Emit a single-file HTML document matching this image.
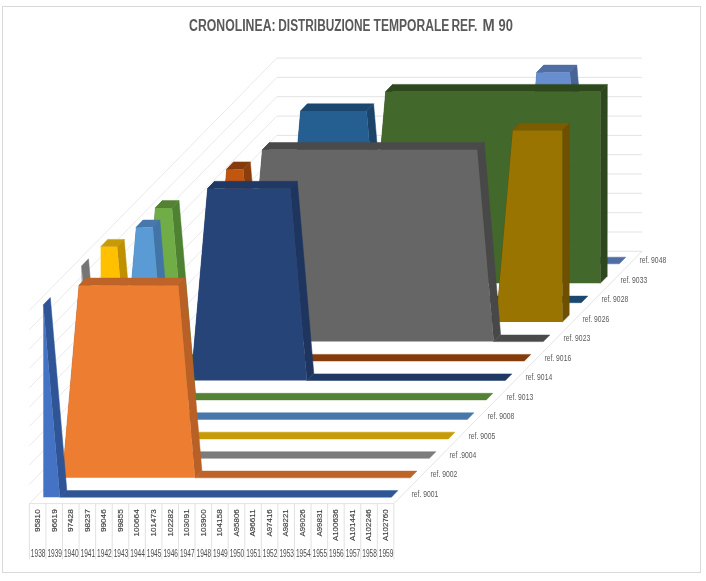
<!DOCTYPE html>
<html><head><meta charset="utf-8"><title>Cronolinea</title>
<style>html,body{margin:0;padding:0;background:#fff}svg{display:block;font-family:"Liberation Sans",sans-serif}</style>
</head><body>
<svg width="706" height="581" viewBox="0 0 706 581">
<rect width="706" height="581" fill="#fff"/>
<rect x="2.5" y="6.5" width="698" height="566" fill="#fff" stroke="#d9d9d9" stroke-width="1"/>
<line x1="276.8" y1="251.3" x2="642.0" y2="251.3" stroke="#e0e0e0" stroke-width="0.9"/>
<line x1="29.4" y1="503.6" x2="276.8" y2="251.3" stroke="#e6e6e6" stroke-width="0.9"/>
<line x1="276.8" y1="232.0" x2="642.0" y2="232.0" stroke="#e0e0e0" stroke-width="0.9"/>
<line x1="29.4" y1="484.3" x2="276.8" y2="232.0" stroke="#e6e6e6" stroke-width="0.9"/>
<line x1="276.8" y1="212.7" x2="642.0" y2="212.7" stroke="#e0e0e0" stroke-width="0.9"/>
<line x1="29.4" y1="465.0" x2="276.8" y2="212.7" stroke="#e6e6e6" stroke-width="0.9"/>
<line x1="276.8" y1="193.3" x2="642.0" y2="193.3" stroke="#e0e0e0" stroke-width="0.9"/>
<line x1="29.4" y1="445.6" x2="276.8" y2="193.3" stroke="#e6e6e6" stroke-width="0.9"/>
<line x1="276.8" y1="174.0" x2="642.0" y2="174.0" stroke="#e0e0e0" stroke-width="0.9"/>
<line x1="29.4" y1="426.3" x2="276.8" y2="174.0" stroke="#e6e6e6" stroke-width="0.9"/>
<line x1="276.8" y1="154.7" x2="642.0" y2="154.7" stroke="#e0e0e0" stroke-width="0.9"/>
<line x1="29.4" y1="407.0" x2="276.8" y2="154.7" stroke="#e6e6e6" stroke-width="0.9"/>
<line x1="276.8" y1="135.4" x2="642.0" y2="135.4" stroke="#e0e0e0" stroke-width="0.9"/>
<line x1="29.4" y1="387.7" x2="276.8" y2="135.4" stroke="#e6e6e6" stroke-width="0.9"/>
<line x1="276.8" y1="116.1" x2="642.0" y2="116.1" stroke="#e0e0e0" stroke-width="0.9"/>
<line x1="29.4" y1="368.4" x2="276.8" y2="116.1" stroke="#e6e6e6" stroke-width="0.9"/>
<line x1="276.8" y1="96.7" x2="642.0" y2="96.7" stroke="#e0e0e0" stroke-width="0.9"/>
<line x1="29.4" y1="349.0" x2="276.8" y2="96.7" stroke="#e6e6e6" stroke-width="0.9"/>
<line x1="276.8" y1="77.4" x2="642.0" y2="77.4" stroke="#e0e0e0" stroke-width="0.9"/>
<line x1="29.4" y1="329.7" x2="276.8" y2="77.4" stroke="#e6e6e6" stroke-width="0.9"/>
<line x1="276.8" y1="58.1" x2="642.0" y2="58.1" stroke="#e0e0e0" stroke-width="0.9"/>
<line x1="29.4" y1="310.4" x2="276.8" y2="58.1" stroke="#e6e6e6" stroke-width="0.9"/>
<line x1="393.9" y1="503.6" x2="642.0" y2="251.3" stroke="#e0e0e0" stroke-width="0.9"/>
<line x1="29.4" y1="503.6" x2="393.9" y2="503.6" stroke="#e0e0e0" stroke-width="0.9"/>
<polygon points="272.7,263.8 520.3,263.8 526.8,257.2 279.2,257.2" fill="#4E6EA5" stroke="#4E6EA5" stroke-width="0.5" stroke-linejoin="round"/>
<polygon points="520.3,263.8 536.8,72.4 543.8,65.1 527.2,256.8" fill="#486496" stroke="#486496" stroke-width="0.5" stroke-linejoin="round"/>
<polygon points="536.8,72.4 569.8,72.4 576.8,65.1 543.8,65.1" fill="#4E6EA5" stroke="#4E6EA5" stroke-width="0.5" stroke-linejoin="round"/>
<polygon points="569.8,72.4 586.3,263.8 593.2,256.8 576.8,65.1" fill="#486496" stroke="#486496" stroke-width="0.5" stroke-linejoin="round"/>
<polygon points="586.3,263.8 619.3,263.8 625.8,257.2 592.8,257.2" fill="#4E6EA5" stroke="#4E6EA5" stroke-width="0.5" stroke-linejoin="round"/>
<polygon points="520.3,263.8 536.8,72.4 553.3,72.4 569.8,72.4 586.3,263.8" fill="#698ED0"/>
<text x="639.4" y="263.4" font-size="8.6" fill="#595959" textLength="26.8" lengthAdjust="spacingAndGlyphs">ref. 9048</text>
<polygon points="253.6,283.2 369.2,283.2 375.7,276.6 260.1,276.6" fill="#2E481E" stroke="#2E481E" stroke-width="0.5" stroke-linejoin="round"/>
<polygon points="369.2,283.2 385.7,91.7 392.7,84.4 376.1,276.2" fill="#2E481E" stroke="#2E481E" stroke-width="0.5" stroke-linejoin="round"/>
<polygon points="385.7,91.7 600.3,91.7 607.3,84.4 392.7,84.4" fill="#2E481E" stroke="#2E481E" stroke-width="0.5" stroke-linejoin="round"/>
<polygon points="600.3,91.7 607.3,84.4 607.2,276.2 600.3,283.2" fill="#2E481E" stroke="#2E481E" stroke-width="0.5" stroke-linejoin="round"/>
<polygon points="369.2,283.2 385.7,91.7 402.2,91.7 418.7,91.7 435.2,91.7 451.7,91.7 468.2,91.7 484.7,91.7 501.3,91.7 517.8,91.7 534.3,91.7 550.8,91.7 567.3,91.7 583.8,91.7 600.3,91.7 600.3,283.2" fill="#43682B"/>
<text x="620.4" y="282.9" font-size="8.6" fill="#595959" textLength="26.8" lengthAdjust="spacingAndGlyphs">ref. 9033</text>
<polygon points="234.5,302.7 284.0,302.7 290.5,296.1 241.0,296.1" fill="#1C486F" stroke="#1C486F" stroke-width="0.5" stroke-linejoin="round"/>
<polygon points="284.0,302.7 300.6,111.1 307.6,103.8 290.9,295.7" fill="#1B446A" stroke="#1B446A" stroke-width="0.5" stroke-linejoin="round"/>
<polygon points="300.6,111.1 366.6,111.1 373.6,103.8 307.6,103.8" fill="#1C486F" stroke="#1C486F" stroke-width="0.5" stroke-linejoin="round"/>
<polygon points="366.6,111.1 383.1,302.7 390.0,295.7 373.6,103.8" fill="#1B446A" stroke="#1B446A" stroke-width="0.5" stroke-linejoin="round"/>
<polygon points="383.1,302.7 581.3,302.7 587.8,296.1 389.6,296.1" fill="#1C486F" stroke="#1C486F" stroke-width="0.5" stroke-linejoin="round"/>
<polygon points="284.0,302.7 300.6,111.1 317.1,111.1 333.6,111.1 350.1,111.1 366.6,111.1 383.1,302.7" fill="#255E91"/>
<text x="601.4" y="302.3" font-size="8.6" fill="#595959" textLength="26.8" lengthAdjust="spacingAndGlyphs">ref. 9028</text>
<polygon points="215.4,322.1 496.2,322.1 502.7,315.5 221.9,315.5" fill="#7D5C00" stroke="#7D5C00" stroke-width="0.5" stroke-linejoin="round"/>
<polygon points="496.2,322.1 512.8,130.5 519.8,123.2 503.1,315.1" fill="#6E5000" stroke="#6E5000" stroke-width="0.5" stroke-linejoin="round"/>
<polygon points="512.8,130.5 562.3,130.5 569.3,123.2 519.8,123.2" fill="#7D5C00" stroke="#7D5C00" stroke-width="0.5" stroke-linejoin="round"/>
<polygon points="562.3,130.5 569.3,123.2 569.2,315.1 562.3,322.1" fill="#6E5000" stroke="#6E5000" stroke-width="0.5" stroke-linejoin="round"/>
<polygon points="496.2,322.1 512.8,130.5 529.3,130.5 545.8,130.5 562.3,130.5 562.3,322.1" fill="#997500"/>
<text x="582.4" y="321.8" font-size="8.6" fill="#595959" textLength="26.8" lengthAdjust="spacingAndGlyphs">ref. 9026</text>
<polygon points="196.3,341.6 245.8,341.6 252.3,335.0 202.8,335.0" fill="#4A4A4A" stroke="#4A4A4A" stroke-width="0.5" stroke-linejoin="round"/>
<polygon points="245.8,341.6 262.4,149.8 269.4,142.5 252.7,334.6" fill="#484848" stroke="#484848" stroke-width="0.5" stroke-linejoin="round"/>
<polygon points="262.4,149.8 477.2,149.8 484.2,142.5 269.4,142.5" fill="#4A4A4A" stroke="#4A4A4A" stroke-width="0.5" stroke-linejoin="round"/>
<polygon points="477.2,149.8 493.7,341.6 500.6,334.6 484.2,142.5" fill="#484848" stroke="#484848" stroke-width="0.5" stroke-linejoin="round"/>
<polygon points="493.7,341.6 543.3,341.6 549.8,335.0 500.2,335.0" fill="#4A4A4A" stroke="#4A4A4A" stroke-width="0.5" stroke-linejoin="round"/>
<polygon points="245.8,341.6 262.4,149.8 278.9,149.8 295.4,149.8 311.9,149.8 328.5,149.8 345.0,149.8 361.5,149.8 378.1,149.8 394.6,149.8 411.1,149.8 427.6,149.8 444.2,149.8 460.7,149.8 477.2,149.8 493.7,341.6" fill="#666666"/>
<text x="563.4" y="341.2" font-size="8.6" fill="#595959" textLength="26.8" lengthAdjust="spacingAndGlyphs">ref. 9023</text>
<polygon points="177.1,361.0 210.2,361.0 216.7,354.4 183.6,354.4" fill="#843C0C" stroke="#843C0C" stroke-width="0.5" stroke-linejoin="round"/>
<polygon points="210.2,361.0 226.7,169.2 233.7,161.9 217.1,354.0" fill="#8A3E0B" stroke="#8A3E0B" stroke-width="0.5" stroke-linejoin="round"/>
<polygon points="226.7,169.2 243.3,169.2 250.3,161.9 233.7,161.9" fill="#843C0C" stroke="#843C0C" stroke-width="0.5" stroke-linejoin="round"/>
<polygon points="243.3,169.2 259.8,361.0 266.7,354.0 250.3,161.9" fill="#8A3E0B" stroke="#8A3E0B" stroke-width="0.5" stroke-linejoin="round"/>
<polygon points="259.8,361.0 524.3,361.0 530.8,354.4 266.3,354.4" fill="#843C0C" stroke="#843C0C" stroke-width="0.5" stroke-linejoin="round"/>
<polygon points="210.2,361.0 226.7,169.2 243.3,169.2 259.8,361.0" fill="#C0560F"/>
<text x="544.4" y="360.6" font-size="8.6" fill="#595959" textLength="26.8" lengthAdjust="spacingAndGlyphs">ref. 9016</text>
<polygon points="158.0,380.5 191.1,380.5 197.6,373.9 164.5,373.9" fill="#1F3864" stroke="#1F3864" stroke-width="0.5" stroke-linejoin="round"/>
<polygon points="191.1,380.5 207.6,188.6 214.6,181.3 198.0,373.5" fill="#1E3560" stroke="#1E3560" stroke-width="0.5" stroke-linejoin="round"/>
<polygon points="207.6,188.6 290.3,188.6 297.3,181.3 214.6,181.3" fill="#1F3864" stroke="#1F3864" stroke-width="0.5" stroke-linejoin="round"/>
<polygon points="290.3,188.6 306.9,380.5 313.8,373.5 297.3,181.3" fill="#1E3560" stroke="#1E3560" stroke-width="0.5" stroke-linejoin="round"/>
<polygon points="306.9,380.5 505.3,380.5 511.8,373.9 313.4,373.9" fill="#1F3864" stroke="#1F3864" stroke-width="0.5" stroke-linejoin="round"/>
<polygon points="191.1,380.5 207.6,188.6 224.2,188.6 240.7,188.6 257.3,188.6 273.8,188.6 290.3,188.6 306.9,380.5" fill="#264478"/>
<text x="525.4" y="380.1" font-size="8.6" fill="#595959" textLength="26.8" lengthAdjust="spacingAndGlyphs">ref. 9014</text>
<polygon points="138.9,399.9 155.4,207.9 162.4,200.6 145.8,392.9" fill="#4E8232" stroke="#4E8232" stroke-width="0.5" stroke-linejoin="round"/>
<polygon points="155.4,207.9 172.0,207.9 179.0,200.6 162.4,200.6" fill="#548235" stroke="#548235" stroke-width="0.5" stroke-linejoin="round"/>
<polygon points="172.0,207.9 188.5,399.9 195.4,392.9 179.0,200.6" fill="#4E8232" stroke="#4E8232" stroke-width="0.5" stroke-linejoin="round"/>
<polygon points="188.5,399.9 486.3,399.9 492.8,393.3 195.0,393.3" fill="#548235" stroke="#548235" stroke-width="0.5" stroke-linejoin="round"/>
<polygon points="138.9,399.9 155.4,207.9 172.0,207.9 188.5,399.9" fill="#70AD47"/>
<text x="506.4" y="399.6" font-size="8.6" fill="#595959" textLength="26.8" lengthAdjust="spacingAndGlyphs">ref. 9013</text>
<polygon points="119.8,419.4 136.3,227.3 143.3,220.0 126.7,412.4" fill="#4274A7" stroke="#4274A7" stroke-width="0.5" stroke-linejoin="round"/>
<polygon points="136.3,227.3 152.9,227.3 159.9,220.0 143.3,220.0" fill="#4878AB" stroke="#4878AB" stroke-width="0.5" stroke-linejoin="round"/>
<polygon points="152.9,227.3 169.4,419.4 176.3,412.4 159.9,220.0" fill="#4274A7" stroke="#4274A7" stroke-width="0.5" stroke-linejoin="round"/>
<polygon points="169.4,419.4 467.4,419.4 473.9,412.8 175.9,412.8" fill="#4878AB" stroke="#4878AB" stroke-width="0.5" stroke-linejoin="round"/>
<polygon points="119.8,419.4 136.3,227.3 152.9,227.3 169.4,419.4" fill="#5B9BD5"/>
<text x="487.5" y="419.0" font-size="8.6" fill="#595959" textLength="26.8" lengthAdjust="spacingAndGlyphs">ref. 9008</text>
<polygon points="100.7,246.7 117.2,246.7 124.2,239.4 107.7,239.4" fill="#C79A08" stroke="#C79A08" stroke-width="0.5" stroke-linejoin="round"/>
<polygon points="117.2,246.7 133.8,438.9 140.7,431.9 124.2,239.4" fill="#BF9000" stroke="#BF9000" stroke-width="0.5" stroke-linejoin="round"/>
<polygon points="133.8,438.9 448.4,438.9 454.9,432.2 140.3,432.2" fill="#C79A08" stroke="#C79A08" stroke-width="0.5" stroke-linejoin="round"/>
<polygon points="100.7,438.9 100.7,246.7 117.2,246.7 133.8,438.9" fill="#FFC000"/>
<text x="468.5" y="438.5" font-size="8.6" fill="#595959" textLength="26.8" lengthAdjust="spacingAndGlyphs">ref. 9005</text>
<polygon points="81.5,266.1 98.1,458.3 105.0,451.3 88.5,258.8" fill="#757575" stroke="#757575" stroke-width="0.5" stroke-linejoin="round"/>
<polygon points="98.1,458.3 429.4,458.3 435.9,451.7 104.6,451.7" fill="#7C7C7C" stroke="#7C7C7C" stroke-width="0.5" stroke-linejoin="round"/>
<polygon points="81.5,458.3 81.5,266.1 98.1,458.3" fill="#A5A5A5"/>
<text x="449.5" y="457.9" font-size="8.6" fill="#595959" textLength="26.8" lengthAdjust="spacingAndGlyphs">ref .9004</text>
<polygon points="62.4,477.8 79.0,285.4 86.0,278.1 69.3,470.8" fill="#B86025" stroke="#B86025" stroke-width="0.5" stroke-linejoin="round"/>
<polygon points="79.0,285.4 178.4,285.4 185.4,278.1 86.0,278.1" fill="#BE6428" stroke="#BE6428" stroke-width="0.5" stroke-linejoin="round"/>
<polygon points="178.4,285.4 195.0,477.8 201.9,470.8 185.4,278.1" fill="#B86025" stroke="#B86025" stroke-width="0.5" stroke-linejoin="round"/>
<polygon points="195.0,477.8 410.4,477.8 416.9,471.1 201.5,471.1" fill="#BE6428" stroke="#BE6428" stroke-width="0.5" stroke-linejoin="round"/>
<polygon points="62.4,477.8 79.0,285.4 95.6,285.4 112.1,285.4 128.7,285.4 145.3,285.4 161.8,285.4 178.4,285.4 195.0,477.8" fill="#ED7D31"/>
<text x="430.5" y="477.4" font-size="8.6" fill="#595959" textLength="26.8" lengthAdjust="spacingAndGlyphs">ref. 9002</text>
<polygon points="43.3,304.8 59.9,497.2 66.8,490.2 50.3,297.5" fill="#2F5597" stroke="#2F5597" stroke-width="0.5" stroke-linejoin="round"/>
<polygon points="59.9,497.2 391.4,497.2 397.9,490.6 66.4,490.6" fill="#2F5597" stroke="#2F5597" stroke-width="0.5" stroke-linejoin="round"/>
<polygon points="43.3,497.2 43.3,304.8 59.9,497.2" fill="#4472C4"/>
<text x="411.5" y="496.8" font-size="8.6" fill="#595959" textLength="26.8" lengthAdjust="spacingAndGlyphs">ref. 9001</text>
<line x1="29.35" y1="503.6" x2="29.35" y2="559.4" stroke="#dedede" stroke-width="0.9"/>
<line x1="45.92" y1="503.6" x2="45.92" y2="559.4" stroke="#dedede" stroke-width="0.9"/>
<line x1="62.49" y1="503.6" x2="62.49" y2="559.4" stroke="#dedede" stroke-width="0.9"/>
<line x1="79.06" y1="503.6" x2="79.06" y2="559.4" stroke="#dedede" stroke-width="0.9"/>
<line x1="95.63" y1="503.6" x2="95.63" y2="559.4" stroke="#dedede" stroke-width="0.9"/>
<line x1="112.20" y1="503.6" x2="112.20" y2="559.4" stroke="#dedede" stroke-width="0.9"/>
<line x1="128.77" y1="503.6" x2="128.77" y2="559.4" stroke="#dedede" stroke-width="0.9"/>
<line x1="145.34" y1="503.6" x2="145.34" y2="559.4" stroke="#dedede" stroke-width="0.9"/>
<line x1="161.91" y1="503.6" x2="161.91" y2="559.4" stroke="#dedede" stroke-width="0.9"/>
<line x1="178.48" y1="503.6" x2="178.48" y2="559.4" stroke="#dedede" stroke-width="0.9"/>
<line x1="195.05" y1="503.6" x2="195.05" y2="559.4" stroke="#dedede" stroke-width="0.9"/>
<line x1="211.62" y1="503.6" x2="211.62" y2="559.4" stroke="#dedede" stroke-width="0.9"/>
<line x1="228.19" y1="503.6" x2="228.19" y2="559.4" stroke="#dedede" stroke-width="0.9"/>
<line x1="244.76" y1="503.6" x2="244.76" y2="559.4" stroke="#dedede" stroke-width="0.9"/>
<line x1="261.33" y1="503.6" x2="261.33" y2="559.4" stroke="#dedede" stroke-width="0.9"/>
<line x1="277.90" y1="503.6" x2="277.90" y2="559.4" stroke="#dedede" stroke-width="0.9"/>
<line x1="294.47" y1="503.6" x2="294.47" y2="559.4" stroke="#dedede" stroke-width="0.9"/>
<line x1="311.04" y1="503.6" x2="311.04" y2="559.4" stroke="#dedede" stroke-width="0.9"/>
<line x1="327.61" y1="503.6" x2="327.61" y2="559.4" stroke="#dedede" stroke-width="0.9"/>
<line x1="344.18" y1="503.6" x2="344.18" y2="559.4" stroke="#dedede" stroke-width="0.9"/>
<line x1="360.75" y1="503.6" x2="360.75" y2="559.4" stroke="#dedede" stroke-width="0.9"/>
<line x1="377.32" y1="503.6" x2="377.32" y2="559.4" stroke="#dedede" stroke-width="0.9"/>
<line x1="393.89" y1="503.6" x2="393.89" y2="559.4" stroke="#dedede" stroke-width="0.9"/>
<text transform="translate(39.94,509.3) rotate(-90)" text-anchor="end" font-size="7.7" fill="#404040" stroke="#404040" stroke-width="0.15" textLength="22.8" lengthAdjust="spacingAndGlyphs">95810</text>
<text x="30.84" y="557.4" font-size="10.2" fill="#4d4d4d" textLength="14.6" lengthAdjust="spacingAndGlyphs">1938</text>
<text transform="translate(56.50,509.3) rotate(-90)" text-anchor="end" font-size="7.7" fill="#404040" stroke="#404040" stroke-width="0.15" textLength="22.8" lengthAdjust="spacingAndGlyphs">96619</text>
<text x="47.41" y="557.4" font-size="10.2" fill="#4d4d4d" textLength="14.6" lengthAdjust="spacingAndGlyphs">1939</text>
<text transform="translate(73.08,509.3) rotate(-90)" text-anchor="end" font-size="7.7" fill="#404040" stroke="#404040" stroke-width="0.15" textLength="22.8" lengthAdjust="spacingAndGlyphs">97428</text>
<text x="63.98" y="557.4" font-size="10.2" fill="#4d4d4d" textLength="14.6" lengthAdjust="spacingAndGlyphs">1940</text>
<text transform="translate(89.64,509.3) rotate(-90)" text-anchor="end" font-size="7.7" fill="#404040" stroke="#404040" stroke-width="0.15" textLength="22.8" lengthAdjust="spacingAndGlyphs">98237</text>
<text x="80.55" y="557.4" font-size="10.2" fill="#4d4d4d" textLength="14.6" lengthAdjust="spacingAndGlyphs">1941</text>
<text transform="translate(106.21,509.3) rotate(-90)" text-anchor="end" font-size="7.7" fill="#404040" stroke="#404040" stroke-width="0.15" textLength="22.8" lengthAdjust="spacingAndGlyphs">99046</text>
<text x="97.11" y="557.4" font-size="10.2" fill="#4d4d4d" textLength="14.6" lengthAdjust="spacingAndGlyphs">1942</text>
<text transform="translate(122.79,509.3) rotate(-90)" text-anchor="end" font-size="7.7" fill="#404040" stroke="#404040" stroke-width="0.15" textLength="22.8" lengthAdjust="spacingAndGlyphs">99855</text>
<text x="113.69" y="557.4" font-size="10.2" fill="#4d4d4d" textLength="14.6" lengthAdjust="spacingAndGlyphs">1943</text>
<text transform="translate(139.36,509.3) rotate(-90)" text-anchor="end" font-size="7.7" fill="#404040" stroke="#404040" stroke-width="0.15" textLength="27.3" lengthAdjust="spacingAndGlyphs">100664</text>
<text x="130.25" y="557.4" font-size="10.2" fill="#4d4d4d" textLength="14.6" lengthAdjust="spacingAndGlyphs">1944</text>
<text transform="translate(155.93,509.3) rotate(-90)" text-anchor="end" font-size="7.7" fill="#404040" stroke="#404040" stroke-width="0.15" textLength="27.3" lengthAdjust="spacingAndGlyphs">101473</text>
<text x="146.82" y="557.4" font-size="10.2" fill="#4d4d4d" textLength="14.6" lengthAdjust="spacingAndGlyphs">1945</text>
<text transform="translate(172.50,509.3) rotate(-90)" text-anchor="end" font-size="7.7" fill="#404040" stroke="#404040" stroke-width="0.15" textLength="27.3" lengthAdjust="spacingAndGlyphs">102282</text>
<text x="163.39" y="557.4" font-size="10.2" fill="#4d4d4d" textLength="14.6" lengthAdjust="spacingAndGlyphs">1946</text>
<text transform="translate(189.06,509.3) rotate(-90)" text-anchor="end" font-size="7.7" fill="#404040" stroke="#404040" stroke-width="0.15" textLength="27.3" lengthAdjust="spacingAndGlyphs">103091</text>
<text x="179.96" y="557.4" font-size="10.2" fill="#4d4d4d" textLength="14.6" lengthAdjust="spacingAndGlyphs">1947</text>
<text transform="translate(205.64,509.3) rotate(-90)" text-anchor="end" font-size="7.7" fill="#404040" stroke="#404040" stroke-width="0.15" textLength="27.3" lengthAdjust="spacingAndGlyphs">103900</text>
<text x="196.53" y="557.4" font-size="10.2" fill="#4d4d4d" textLength="14.6" lengthAdjust="spacingAndGlyphs">1948</text>
<text transform="translate(222.21,509.3) rotate(-90)" text-anchor="end" font-size="7.7" fill="#404040" stroke="#404040" stroke-width="0.15" textLength="27.3" lengthAdjust="spacingAndGlyphs">104158</text>
<text x="213.10" y="557.4" font-size="10.2" fill="#4d4d4d" textLength="14.6" lengthAdjust="spacingAndGlyphs">1949</text>
<text transform="translate(238.78,509.3) rotate(-90)" text-anchor="end" font-size="7.7" fill="#404040" stroke="#404040" stroke-width="0.15" textLength="27.3" lengthAdjust="spacingAndGlyphs">A95806</text>
<text x="229.67" y="557.4" font-size="10.2" fill="#4d4d4d" textLength="14.6" lengthAdjust="spacingAndGlyphs">1950</text>
<text transform="translate(255.34,509.3) rotate(-90)" text-anchor="end" font-size="7.7" fill="#404040" stroke="#404040" stroke-width="0.15" textLength="27.3" lengthAdjust="spacingAndGlyphs">A96611</text>
<text x="246.24" y="557.4" font-size="10.2" fill="#4d4d4d" textLength="14.6" lengthAdjust="spacingAndGlyphs">1951</text>
<text transform="translate(271.92,509.3) rotate(-90)" text-anchor="end" font-size="7.7" fill="#404040" stroke="#404040" stroke-width="0.15" textLength="27.3" lengthAdjust="spacingAndGlyphs">A97416</text>
<text x="262.81" y="557.4" font-size="10.2" fill="#4d4d4d" textLength="14.6" lengthAdjust="spacingAndGlyphs">1952</text>
<text transform="translate(288.49,509.3) rotate(-90)" text-anchor="end" font-size="7.7" fill="#404040" stroke="#404040" stroke-width="0.15" textLength="27.3" lengthAdjust="spacingAndGlyphs">A98221</text>
<text x="279.38" y="557.4" font-size="10.2" fill="#4d4d4d" textLength="14.6" lengthAdjust="spacingAndGlyphs">1953</text>
<text transform="translate(305.06,509.3) rotate(-90)" text-anchor="end" font-size="7.7" fill="#404040" stroke="#404040" stroke-width="0.15" textLength="27.3" lengthAdjust="spacingAndGlyphs">A99026</text>
<text x="295.96" y="557.4" font-size="10.2" fill="#4d4d4d" textLength="14.6" lengthAdjust="spacingAndGlyphs">1954</text>
<text transform="translate(321.63,509.3) rotate(-90)" text-anchor="end" font-size="7.7" fill="#404040" stroke="#404040" stroke-width="0.15" textLength="27.3" lengthAdjust="spacingAndGlyphs">A99831</text>
<text x="312.53" y="557.4" font-size="10.2" fill="#4d4d4d" textLength="14.6" lengthAdjust="spacingAndGlyphs">1955</text>
<text transform="translate(338.20,509.3) rotate(-90)" text-anchor="end" font-size="7.7" fill="#404040" stroke="#404040" stroke-width="0.15" textLength="31.8" lengthAdjust="spacingAndGlyphs">A100636</text>
<text x="329.10" y="557.4" font-size="10.2" fill="#4d4d4d" textLength="14.6" lengthAdjust="spacingAndGlyphs">1956</text>
<text transform="translate(354.77,509.3) rotate(-90)" text-anchor="end" font-size="7.7" fill="#404040" stroke="#404040" stroke-width="0.15" textLength="31.8" lengthAdjust="spacingAndGlyphs">A101441</text>
<text x="345.67" y="557.4" font-size="10.2" fill="#4d4d4d" textLength="14.6" lengthAdjust="spacingAndGlyphs">1957</text>
<text transform="translate(371.34,509.3) rotate(-90)" text-anchor="end" font-size="7.7" fill="#404040" stroke="#404040" stroke-width="0.15" textLength="31.8" lengthAdjust="spacingAndGlyphs">A102246</text>
<text x="362.24" y="557.4" font-size="10.2" fill="#4d4d4d" textLength="14.6" lengthAdjust="spacingAndGlyphs">1958</text>
<text transform="translate(387.91,509.3) rotate(-90)" text-anchor="end" font-size="7.7" fill="#404040" stroke="#404040" stroke-width="0.15" textLength="31.8" lengthAdjust="spacingAndGlyphs">A102760</text>
<text x="378.81" y="557.4" font-size="10.2" fill="#4d4d4d" textLength="14.6" lengthAdjust="spacingAndGlyphs">1959</text>
<text x="189.1" y="30.8" font-size="15.6" font-weight="bold" fill="#595959" textLength="86.5" lengthAdjust="spacingAndGlyphs">CRONOLINEA:</text>
<text x="278.3" y="30.8" font-size="15.6" font-weight="bold" fill="#595959" textLength="92.2" lengthAdjust="spacingAndGlyphs">DISTRIBUZIONE</text>
<text x="373.6" y="30.8" font-size="15.6" font-weight="bold" fill="#595959" textLength="75.7" lengthAdjust="spacingAndGlyphs">TEMPORALE</text>
<text x="451.4" y="30.8" font-size="15.6" font-weight="bold" fill="#595959" textLength="25.9" lengthAdjust="spacingAndGlyphs">REF.</text>
<text x="482.5" y="30.8" font-size="15.6" font-weight="bold" fill="#595959" textLength="12.2" lengthAdjust="spacingAndGlyphs">M</text>
<text x="498.6" y="30.8" font-size="15.6" font-weight="bold" fill="#595959" textLength="14.4" lengthAdjust="spacingAndGlyphs">90</text>
</svg>
</body></html>
